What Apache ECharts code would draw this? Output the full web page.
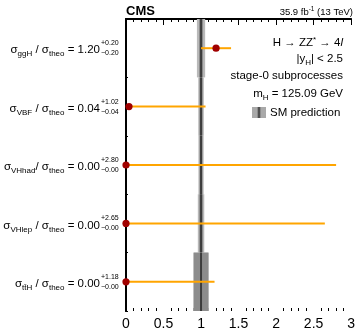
<!DOCTYPE html>
<html><head><meta charset="utf-8">
<script src="https://cdn.jsdelivr.net/npm/echarts@6/dist/echarts.min.js"></script>
<style>html,body{margin:0;padding:0;background:#fff}#c{width:358px;height:331px}</style>
</head><body><div id="c"></div>
<script>
const categories = ['ggH', 'VBF', 'VHhad', 'VHlep', 'ttH'];
const labelSubs = ['ggH', 'VBF', 'VHhad', 'VHlep', 't\u0074\u0304H'];
const labelSeps = [' / ', ' / ', '/ ', ' / ', ' / '];
const centralValues = [1.20, 0.04, 0.00, 0.00, 0.00];
const errUp = [0.20, 1.02, 2.80, 2.65, 1.18];
const errDown = [0.20, 0.04, 0.00, 0.00, 0.00];
const smValue = 1.0;
const smOuterHalf = [0.055, 0.037, 0.035, 0.043, 0.105];
const smInnerHalf = [0.027, 0.022, 0.020, 0.025, 0.095];
const xTicks = [0, 0.5, 1, 1.5, 2, 2.5, 3];

const FONT = '"Liberation Sans", Arial, Helvetica, sans-serif';
const chart = echarts.init(document.getElementById('c'));

const bandData = categories.map((c, i) => [i, smValue - smOuterHalf[i], smValue + smOuterHalf[i], smValue - smInnerHalf[i], smValue + smInnerHalf[i]]);
const errData = categories.map((c, i) => [i, centralValues[i], centralValues[i] - errDown[i], centralValues[i] + errUp[i]]);
const labelData = categories.map((c, i) => [i, 0]);

function fmt(v) { return v.toFixed(2); }

option = {
  animation: false,
  grid: { left: 126, right: 4, top: 19, bottom: 17 },
  xAxis: [{
    type: 'value', min: 0, max: 3, interval: 0.5, position: 'bottom',
    axisLine: { lineStyle: { color: '#000', width: 2 } },
    axisTick: { inside: true, length: 6, lineStyle: { color: '#000', width: 1 } },
    minorTick: { show: true, splitNumber: 5, length: 3, lineStyle: { color: '#000', width: 1 } },
    splitLine: { show: false },
    axisLabel: { color: '#000', fontSize: 14, fontFamily: FONT, margin: 6,
      formatter: v => xTicks.includes(v) ? String(v) : '' }
  }, {
    type: 'value', min: 0, max: 3, interval: 0.5, position: 'top',
    axisLine: { show: true, lineStyle: { color: '#000', width: 2 } },
    axisTick: { show: true, inside: true, length: 6, lineStyle: { color: '#000', width: 1 } },
    minorTick: { show: true, splitNumber: 5, length: 3, lineStyle: { color: '#000', width: 1 } },
    splitLine: { show: false }, axisLabel: { show: false }
  }],
  yAxis: [{
    type: 'category', data: categories, inverse: true, position: 'left',
    axisLine: { lineStyle: { color: '#000', width: 2 } },
    axisTick: { show: true, inside: true, length: 2, lineStyle: { color: '#000' } },
    axisLabel: { show: false }, splitLine: { show: false }
  }, {
    type: 'category', data: categories, inverse: true, position: 'right',
    axisLine: { show: true, lineStyle: { color: '#000', width: 2 } },
    axisTick: { show: false }, axisLabel: { show: false }, splitLine: { show: false }
  }],
  series: [{
    type: 'custom', z: 2,
    data: bandData,
    encode: { x: [1, 2, 3, 4], y: 0 },
    renderItem: function (params, api) {
      const i = api.value(0);
      const h = api.size([0, 1])[1];
      const cy = api.coord([smValue, i])[1];
      const top = cy - h / 2;
      const o1 = api.coord([api.value(1), i])[0], o2 = api.coord([api.value(2), i])[0];
      const i1 = api.coord([api.value(3), i])[0], i2 = api.coord([api.value(4), i])[0];
      const cx = api.coord([smValue, i])[0];
      return { type: 'group', children: [
        { type: 'rect', shape: { x: o1, y: top, width: o2 - o1, height: h }, style: { fill: '#b9b9b9' } },
        { type: 'rect', shape: { x: i1, y: top, width: i2 - i1, height: h }, style: { fill: '#8c8c8c' } },
        { type: 'line', shape: { x1: cx, y1: top, x2: cx, y2: top + h }, style: { stroke: '#3c3c3c', lineWidth: 2 } }
      ] };
    }
  }, {
    type: 'custom', z: 3,
    data: errData,
    encode: { x: [1, 2, 3], y: 0 },
    renderItem: function (params, api) {
      const i = api.value(0);
      const p = api.coord([api.value(1), i]);
      const a = api.coord([api.value(2), i]);
      const b = api.coord([api.value(3), i]);
      return { type: 'group', children: [
        { type: 'line', shape: { x1: a[0], y1: a[1], x2: b[0], y2: b[1] }, style: { stroke: '#ffa500', lineWidth: 2 } },
        { type: 'circle', shape: { cx: p[0], cy: p[1], r: 3.6 }, style: { fill: '#a00000' } }
      ] };
    }
  }, {
    type: 'custom', z: 4, clip: false,
    data: labelData,
    encode: { x: 1, y: 0 },
    renderItem: function (params, api) {
      const i = api.value(0);
      const p = api.coord([0, i]);
      const xr = p[0] - 26;
      return { type: 'group', children: [
        { type: 'text', x: xr, y: p[1] + 2, style: {
          text: '{m|σ}{s|' + labelSubs[i] + '}{m|' + labelSeps[i] + 'σ}{s|theo}{m| = ' + fmt(centralValues[i]) + '}',
          align: 'right', verticalAlign: 'middle', fill: '#000', font: '11.5px ' + FONT,
          rich: { m: { fontSize: 11.5, fontFamily: FONT, lineHeight: 16, fill: '#000' },
                  s: { fontSize: 8, fontFamily: FONT, verticalAlign: 'bottom', lineHeight: 9, fill: '#000' } } } },
        { type: 'text', x: xr + 1, y: p[1] - 5, style: { text: '+' + fmt(errUp[i]), align: 'left', verticalAlign: 'middle', font: '7px ' + FONT, fill: '#000' } },
        { type: 'text', x: xr + 1, y: p[1] + 5, style: { text: '\u2212' + fmt(errDown[i]), align: 'left', verticalAlign: 'middle', font: '7px ' + FONT, fill: '#000' } }
      ] };
    }
  }],
  graphic: [
    { type: 'text', left: 126, top: 5, style: { text: 'CMS', font: 'bold 13px ' + FONT, fill: '#000' } },
    { type: 'text', x: 353, y: 12, style: { text: '{a|35.9 fb}{p|-1}{a| (13 TeV)}', align: 'right', verticalAlign: 'middle',
      rich: { a: { fontSize: 9.5, fontFamily: FONT, lineHeight: 12, fill: '#000' }, p: { fontSize: 6.5, fontFamily: FONT, verticalAlign: 'top', lineHeight: 7, fill: '#000' } } } },
    { type: 'text', x: 343, y: 43, style: { text: '{a|H \u2192 ZZ}{p|*}{a| \u2192 4}{i|l}', align: 'right', verticalAlign: 'middle',
      rich: { a: { fontSize: 11.5, fontFamily: FONT, lineHeight: 15, fill: '#000' }, i: { fontSize: 11.5, fontFamily: FONT, fontStyle: 'italic', lineHeight: 15, fill: '#000' }, p: { fontSize: 8, fontFamily: FONT, verticalAlign: 'top', lineHeight: 8, fill: '#000' } } } },
    { type: 'text', x: 343, y: 59, style: { text: '{a||y}{s|H}{a|| < 2.5}', align: 'right', verticalAlign: 'middle',
      rich: { a: { fontSize: 11.5, fontFamily: FONT, lineHeight: 15, fill: '#000' }, s: { fontSize: 8, fontFamily: FONT, verticalAlign: 'bottom', lineHeight: 8, fill: '#000' } } } },
    { type: 'text', x: 343, y: 76, style: { text: 'stage-0 subprocesses', align: 'right', verticalAlign: 'middle', font: '11.5px ' + FONT, fill: '#000' } },
    { type: 'text', x: 343, y: 94, style: { text: '{a|m}{s|H}{a| = 125.09 GeV}', align: 'right', verticalAlign: 'middle',
      rich: { a: { fontSize: 11.5, fontFamily: FONT, lineHeight: 15, fill: '#000' }, s: { fontSize: 8, fontFamily: FONT, verticalAlign: 'bottom', lineHeight: 8, fill: '#000' } } } },
    { type: 'rect', shape: { x: 252, y: 107, width: 14, height: 11 }, style: { fill: '#a9a9a9' } },
    { type: 'rect', shape: { x: 257, y: 107, width: 4, height: 11 }, style: { fill: '#8c8c8c' } },
    { type: 'line', shape: { x1: 259, y1: 107, x2: 259, y2: 118 }, style: { stroke: '#3c3c3c', lineWidth: 1.5 } },
    { type: 'text', x: 270, y: 113, style: { text: 'SM prediction', align: 'left', verticalAlign: 'middle', font: '11.5px ' + FONT, fill: '#000' } }
  ]
};
chart.setOption(option);
</script></body></html>
